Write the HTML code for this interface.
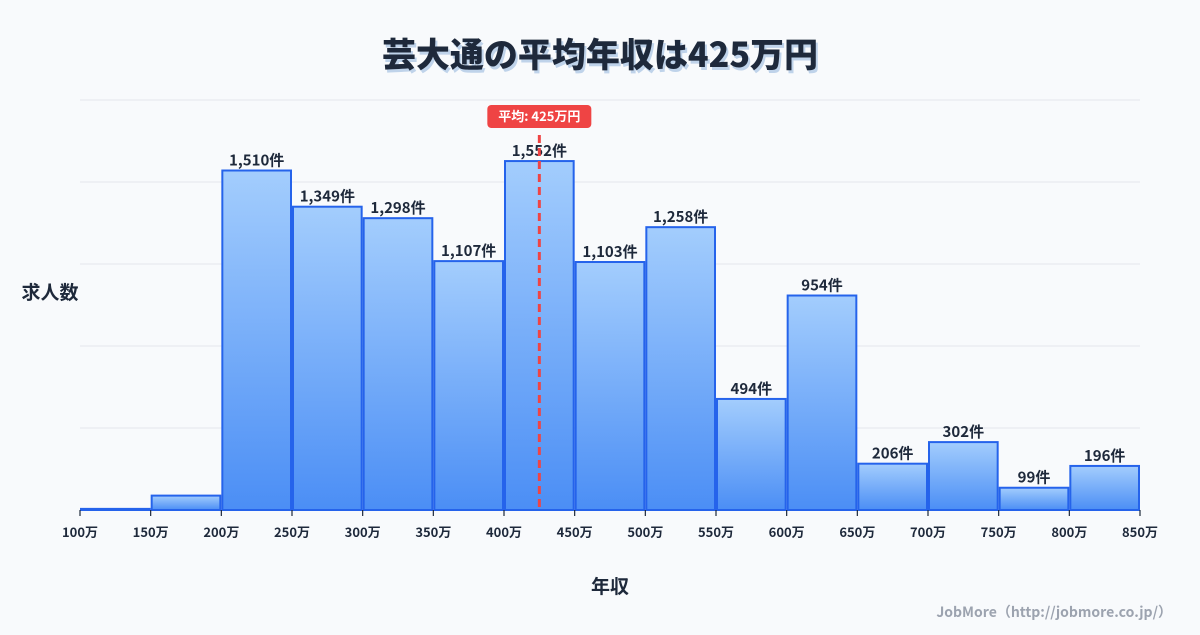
<!DOCTYPE html>
<html><head><meta charset="utf-8">
<style>
html,body{margin:0;padding:0;background:#f8fafc;}
svg text{font-family:"Noto Sans CJK JP","Liberation Sans",sans-serif;}
</style></head>
<body>
<svg id="chart" width="1200" height="630" viewBox="0 0 1200 630" xmlns="http://www.w3.org/2000/svg">
<defs>
<linearGradient id="g" x1="0" y1="0" x2="0" y2="1">
<stop offset="0" stop-color="#a3cdfd"/><stop offset="1" stop-color="#4b8ef5"/>
</linearGradient>
</defs>
<rect width="1200" height="630" fill="#f8fafc"/>
<text x="600" y="67" text-anchor="middle" font-size="34" font-weight="900" fill="#bfd3ea" transform="translate(2,3)">芸大通の平均年収は425万円</text>
<text x="600" y="67" text-anchor="middle" font-size="34" font-weight="900" fill="#1e293b">芸大通の平均年収は425万円</text>
<g id="grid"></g>
<g id="bars"></g>
<g id="xaxis"></g>
<g id="mean"></g>
<text x="50" y="299" text-anchor="middle" font-size="19" font-weight="bold" fill="#1e293b">求人数</text>
<text x="610" y="593" text-anchor="middle" font-size="19" font-weight="bold" fill="#1e293b">年収</text>
<text x="1172" y="617" text-anchor="end" font-size="14" font-weight="bold" fill="#9ca3af">JobMore（http://jobmore.co.jp/）</text>
</svg>
<script>
const binEdges = [100,150,200,250,300,350,400,450,500,550,600,650,700,750,800,850];
const counts = [5,64,1510,1349,1298,1107,1552,1103,1258,494,954,206,302,99,196];
const showLabel = [false,false,true,true,true,true,true,true,true,true,true,true,true,true,true];
const meanValue = 425;
const NS="http://www.w3.org/2000/svg";
const L=80,R=1140,B=510,T=100;
const xMin=binEdges[0], xMax=binEdges[binEdges.length-1];
const yMax=Math.max(...counts)*1.175;
const x=v=>L+(v-xMin)/(xMax-xMin)*(R-L);
const y=v=>B-v/yMax*(B-T);
function mk(tag,attrs,parent){const e=document.createElementNS(NS,tag);for(const k in attrs)e.setAttribute(k,attrs[k]);parent.appendChild(e);return e;}
const grid=document.getElementById('grid');
for(let i=0;i<=5;i++){const gy=B-i*(B-T)/5;
const ln=mk('line',{x1:L,x2:R,y1:gy,y2:gy,stroke:'#e5e7eb','stroke-width':1},grid);

}
const bars=document.getElementById('bars');
counts.forEach((c,i)=>{
const x0=x(binEdges[i])+1,x1=x(binEdges[i+1])-1,yt=y(c);
const r=mk('rect',{x:x0,y:yt,width:x1-x0,height:B-yt,fill:'url(#g)',stroke:'#2563eb','stroke-width':2},bars);


if(showLabel[i]){
const t=mk('text',{x:(x0+x1)/2,y:yt-5,'text-anchor':'middle','font-size':15,'font-weight':'bold',fill:'#1e293b'},bars);
t.textContent=c.toLocaleString('en-US')+'件';

}
});
const xa=document.getElementById('xaxis');
binEdges.forEach(v=>{
const tk=mk('line',{x1:x(v),x2:x(v),y1:B,y2:B+6,stroke:'#1e293b','stroke-width':1.2},xa);


const t=mk('text',{x:x(v),y:B+27,'text-anchor':'middle','font-size':13,'font-weight':'bold',fill:'#1e293b'},xa);
t.textContent=v+'万';


});
const mg=document.getElementById('mean');
const mx=x(meanValue);
const ml=mk('line',{x1:mx,x2:mx,y1:135,y2:B,stroke:'#ef4444','stroke-width':3,'stroke-dasharray':'8,5'},mg);


const mr=mk('rect',{x:mx-52,y:105,width:104,height:23,rx:4,fill:'#ef4444'},mg);


const mt=mk('text',{x:mx,y:121,'text-anchor':'middle','font-size':13,'font-weight':'bold',fill:'#ffffff'},mg);
mt.textContent='平均: '+meanValue+'万円';


</script>
</body></html>
